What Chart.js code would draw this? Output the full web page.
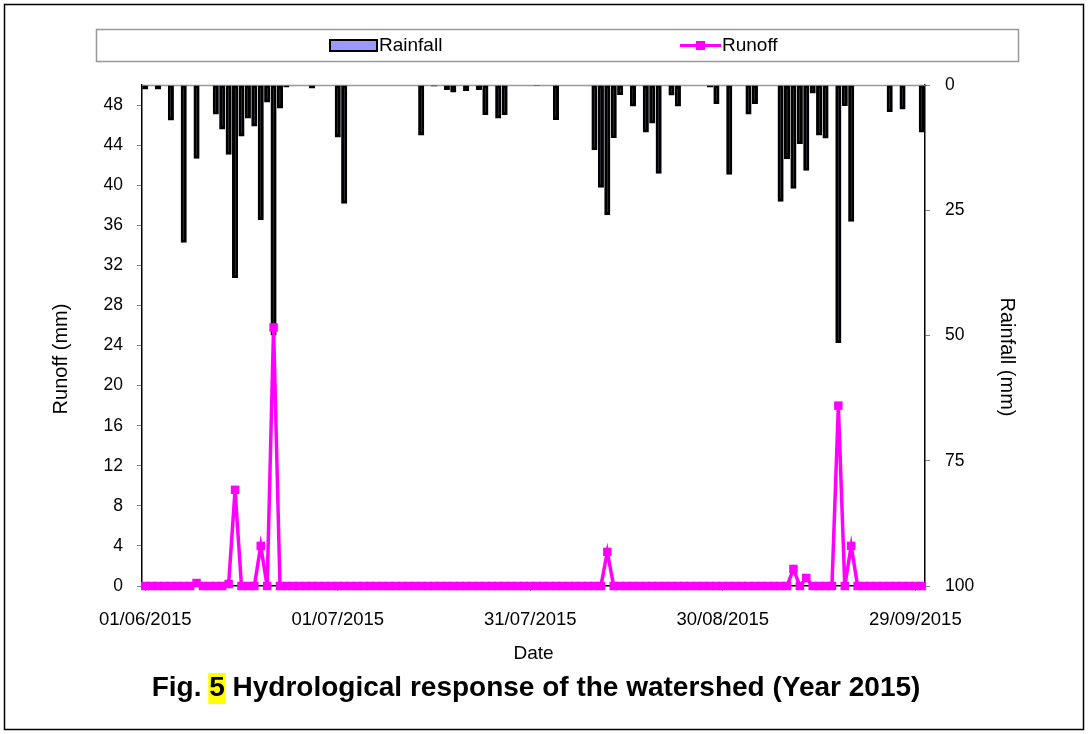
<!DOCTYPE html>
<html><head><meta charset="utf-8">
<script src="https://cdn.jsdelivr.net/npm/chart.js@4"></script>
<style>html,body{margin:0;padding:0;background:#fff}#wrap{width:1088px;height:734px;position:relative}</style>
</head><body><div id="wrap"><canvas id="c" width="1088" height="734"></canvas></div>
<script>
// ---- data ----
const firstDay = '2015-06-01';
const dayCount = 122;
const tickLabels = ['01/06/2015','01/07/2015','31/07/2015','30/08/2015','29/09/2015'];
// rainfall (mm): day index from 01/06/2015 and value
const rainDay = [0,2,4,6,8,11,12,13,14,15,16,17,18,19,20,21,22,26,30,31,43,45,47,48,50,52,53,55,56,61,64,70,71,72,73,74,76,78,79,80,82,83,88,89,91,94,95,99,100,101,102,103,104,105,106,108,109,110,116,118,121];
const rainMm  = [0.9,0.9,7.1,31.5,14.7,5.9,8.9,13.9,38.5,10.3,6.7,8.3,27.0,3.5,50.0,4.7,0.5,0.7,10.5,23.7,10.1,0.3,1.0,1.5,1.2,1.0,6.0,6.7,6.0,0.2,7.0,13.0,20.5,26.0,10.6,2.0,4.3,9.5,7.7,17.7,2.1,4.3,0.5,3.8,17.9,5.9,3.8,23.3,14.8,20.7,11.8,17.1,1.7,10.1,10.7,51.5,4.2,27.3,5.4,4.9,9.5];
// runoff (mm): non-zero days
const runoffDay = [8,13,14,18,20,72,101,103,108,110];
const runoffMm  = [0.3,0.2,9.6,4.0,25.8,3.4,1.7,0.8,18.0,4.0];
const runoffTicks = [0,4,8,12,16,20,24,28,32,36,40,44,48];
const rainTicks = [0,25,50,75,100];
const axisTitles = { runoff: 'Runoff (mm)', rain: 'Rainfall (mm)', date: 'Date' };

// ---- build series ----
const labels = [];
const d0 = new Date(firstDay + 'T00:00:00Z');
for (let i = 0; i < dayCount; i++) {
  const d = new Date(d0.getTime() + i * 86400000);
  const dd = String(d.getUTCDate()).padStart(2,'0');
  const mm = String(d.getUTCMonth()+1).padStart(2,'0');
  labels.push(dd + '/' + mm + '/' + d.getUTCFullYear());
}
const rainfall = labels.map(() => 0);
rainDay.forEach((d, k) => rainfall[d] = rainMm[k]);
const runoff = labels.map(() => 0);
runoffDay.forEach((d, k) => runoff[d] = runoffMm[k]);

const FONT = "'Liberation Sans', Arial, sans-serif";

const decor = {
  id: 'decor',
  beforeDatasetsDraw(chart) {
    const {ctx, chartArea: a} = chart;
    ctx.save();
    ctx.strokeStyle = '#999';
    ctx.lineWidth = 1.5;
    ctx.beginPath(); ctx.moveTo(a.left, a.top + 0.5); ctx.lineTo(a.right, a.top + 0.5); ctx.stroke();
    ctx.restore();
  },
  afterDraw(chart) {
    const ctx = chart.ctx;
    ctx.save();
    // outer frame
    ctx.strokeStyle = '#000'; ctx.lineWidth = 1.5;
    ctx.strokeRect(4.5, 4.5, 1079, 725);
    // y axis titles
    ctx.fillStyle = '#000'; ctx.textAlign = 'center'; ctx.textBaseline = 'middle';
    ctx.font = '20px ' + FONT;
    ctx.save(); ctx.translate(61, 359); ctx.rotate(-Math.PI / 2); ctx.fillText(axisTitles.runoff, 0, 0); ctx.restore();
    ctx.save(); ctx.translate(1007, 357); ctx.rotate(Math.PI / 2); ctx.fillText(axisTitles.rain, 0, 0); ctx.restore();
    // legend box
    ctx.strokeStyle = '#999'; ctx.lineWidth = 1.5;
    ctx.strokeRect(96.5, 29.5, 922, 32);
    ctx.font = '19px ' + FONT; ctx.fillStyle = '#000'; ctx.textBaseline = 'middle'; ctx.textAlign = 'left';
    // rainfall swatch
    ctx.fillStyle = '#9999ff'; ctx.fillRect(330, 40, 47, 11);
    ctx.strokeStyle = '#000'; ctx.lineWidth = 2; ctx.strokeRect(330, 40, 47, 11);
    ctx.fillStyle = '#000'; ctx.fillText(chart.data.datasets[1].label, 379, 46);
    // runoff swatch
    ctx.strokeStyle = '#ff00ff'; ctx.lineWidth = 3;
    ctx.beginPath(); ctx.moveTo(680, 45.5); ctx.lineTo(721, 45.5); ctx.stroke();
    ctx.fillStyle = '#ff00ff'; ctx.fillRect(696, 41, 9, 9);
    ctx.fillStyle = '#000'; ctx.fillText(chart.data.datasets[0].label, 722, 46);
    // caption
    ctx.font = 'bold 28px ' + FONT;
    const p1 = 'Fig. ', p2 = '5', p3 = ' Hydrological response of the watershed (Year 2015)';
    const w1 = ctx.measureText(p1).width, w2 = ctx.measureText(p2).width, w3 = ctx.measureText(p3).width;
    let x = 536 - (w1 + w2 + w3) / 2;
    const y = 688;
    ctx.fillStyle = '#ffff00'; ctx.fillRect(x + w1 - 1, y - 15, w2 + 2, 31);
    ctx.fillStyle = '#000';
    ctx.fillText(p1, x, y); ctx.fillText(p2, x + w1, y); ctx.fillText(p3, x + w1 + w2, y);
    ctx.restore();
  }
};

new Chart(document.getElementById('c'), {
  data: {
    labels: labels,
    datasets: [
      { type: 'line', label: 'Runoff', data: runoff, yAxisID: 'yL', order: 0, clip: false,
        borderColor: '#ff00ff', backgroundColor: '#ff00ff', borderWidth: 3.5,
        pointStyle: 'rect', pointRadius: 6, pointBorderWidth: 0, pointBackgroundColor: '#ff00ff',
        tension: 0, fill: false },
      { type: 'bar', label: 'Rainfall', data: rainfall, yAxisID: 'yR', order: 1,
        backgroundColor: '#9999ff', borderColor: '#000', borderWidth: 3, borderSkipped: false,
        barPercentage: 0.95, categoryPercentage: 1.0 }
    ]
  },
  options: {
    responsive: false, animation: false, devicePixelRatio: 1,
    layout: { padding: { top: 85, bottom: 66, left: 0, right: 0 } },
    plugins: { legend: { display: false }, tooltip: { enabled: false }, title: { display: false } },
    scales: {
      x: {
        type: 'category', offset: true,
        afterFit(s) { s.height = 82; },
        grid: { display: true, drawOnChartArea: false, offset: false, tickLength: 5,
                color: c => (c.index % 30 === 0 ? '#808080' : 'rgba(0,0,0,0)') },
        border: { color: '#000', width: 1.5 },
        ticks: { autoSkip: false, maxRotation: 0, minRotation: 0, padding: 18, color: '#000',
                 font: { family: FONT, size: 18.5 },
                 callback: function(v, i) { const l = labels[i]; return tickLabels.includes(l) ? l : ''; } },
        title: { display: true, text: axisTitles.date, color: '#000', font: { family: FONT, size: 19 }, padding: { top: 0, bottom: 3 } }
      },
      yL: {
        type: 'linear', position: 'left', min: 0, max: 50,
        afterFit(s) { s.width = 142; },
        afterBuildTicks(s) { s.ticks = runoffTicks.map(v => ({ value: v })); },
        grid: { display: true, drawOnChartArea: false, tickLength: 5, color: '#808080' },
        border: { color: '#000', width: 1.5 },
        ticks: { padding: 14, color: '#000', font: { family: FONT, size: 17.5 } },
        title: { display: false }
      },
      yR: {
        type: 'linear', position: 'right', min: 0, max: 100, reverse: true,
        afterFit(s) { s.width = 163; },
        afterBuildTicks(s) { s.ticks = rainTicks.map(v => ({ value: v })); },
        grid: { display: true, drawOnChartArea: false, tickLength: 5, color: '#808080' },
        border: { color: '#000', width: 1.5 },
        ticks: { padding: 15, color: '#000', font: { family: FONT, size: 17.5 } },
        title: { display: false }
      }
    }
  },
  plugins: [decor]
});
</script></body></html>
